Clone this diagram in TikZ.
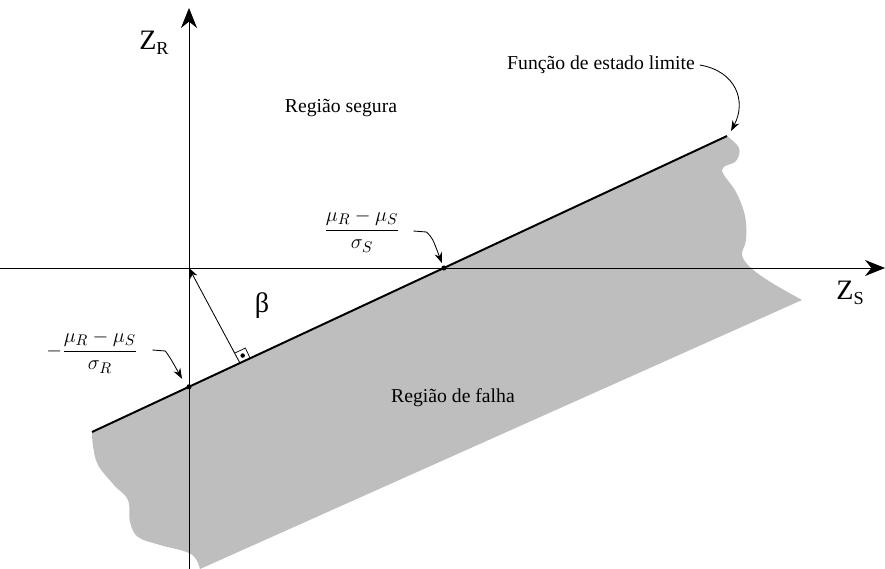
\documentclass[tikz,border=0pt]{standalone}
\usepackage{fontspec}
\setmainfont{Liberation Serif}
\usetikzlibrary{arrows.meta,calc}
\definecolor{failgray}{HTML}{BEBEBE}
\definecolor{ink}{HTML}{000000}

\begin{document}
\begin{tikzpicture}[
    x=0.025cm, y=-0.025cm,
    line cap=butt, line join=miter,
    every node/.style={font=\fontsize{14}{16}\selectfont},
    axis/.style={ink, line width=0.7pt, -{Stealth[length=5mm,width=4mm,inset=1.6mm]}},
    limit/.style={ink, line width=1.4pt},
    pointer/.style={ink, line width=0.6pt, -{Stealth[length=2.6mm,width=1.9mm]}},
    failfill/.style={fill=failgray},
    axlabel/.style={font=\fontsize{20}{22}\selectfont, inner sep=0pt},
    fraclabel/.style={font=\fontsize{15}{17}\selectfont, inner sep=1pt},
]
\useasboundingbox (0,0) rectangle (885,569);

% --- Key points ---
\coordinate (O) at (189,268);
\coordinate (A) at (92,432);
\coordinate (B) at (727,136);
\coordinate (xl) at (0,268);
\coordinate (xr) at (885,268);
\coordinate (yb) at (189,569);
\coordinate (yt) at (189,8);
\coordinate (Ri) at (intersection of A--B and yb--yt);
\coordinate (Si) at (intersection of A--B and xl--xr);
\coordinate (F) at ($(A)!0.233!(B)$);

% --- Failure region (grey, torn edges) ---
\fill[failfill] (A) -- (B)
    -- plot[smooth, tension=0.6] coordinates {(B) (739,148) (736,161) (722,170)
        (736,192) (745,216) (746,240) (742,255) (751,268) (772,283) (802,300)}
    -- (200,569)
    -- plot[smooth, tension=0.6] coordinates {(200,569) (191,554) (160,545)
        (138,537) (130,522) (128,500) (114,485) (98,465) (93,446) (A)}
    -- cycle;

% --- Axes ---
\draw[axis] (xl) -- (xr);
\draw[axis] (yb) -- (yt);
\node[axlabel] (zr) at (154,43) {Z\raisebox{-0.35ex}{\fontsize{13}{13}\selectfont R}};
\node[axlabel] (zs) at (850,293) {Z\raisebox{-0.35ex}{\fontsize{13}{13}\selectfont S}};

% --- Limit state line ---
\draw[limit] (A) -- (B);
\fill[ink] (Ri) circle (1.8pt);
\fill[ink] (Si) circle (1.8pt);

% --- Reliability index beta ---
\draw[pointer] (F) -- (O);
\coordinate (Fa) at ($(F)!8pt!(B)$);
\coordinate (Fb) at ($(F)!8pt!90:(B)$);
\draw[ink, line width=0.5pt] (Fa) -- ($(Fa)+(Fb)-(F)$) -- (Fb);
\fill[ink] ($(F)!0.5!($(Fa)+(Fb)-(F)$)$) circle (1.6pt);
\node[font=\fontsize{20}{22}\selectfont] (beta) at (262,306) {β};

% --- Region labels ---
\node (safe) at (341,108) {Região segura};
\node (fail) at (453,398) {Região de falha};
\node (lsf) at (601,65) {Função de estado limite};
\draw[pointer] (lsf.east) .. controls +(36,6) and +(16,-30) .. ($(B)+(4,-5)$);

% --- Intercepts ---
\node[fraclabel] (fs) at (362,231) {$\displaystyle\frac{\mu_R-\mu_S}{\sigma_S}$};
\coordinate (fsa) at ($(fs.east)+(12,0)$);
\draw[pointer] (fsa) -- ++(13,1) .. controls +(6,6) .. ($(Si)+(-2,-5)$);

\node[fraclabel] (fr) at (92,352) {$-\displaystyle\frac{\mu_R-\mu_S}{\sigma_R}$};
\coordinate (fra) at ($(fr.east)+(13,-2)$);
\draw[pointer] (fra) -- ++(13,1) .. controls +(5,7) .. ($(Ri)+(-7,-8)$);

\end{tikzpicture}
\end{document}
